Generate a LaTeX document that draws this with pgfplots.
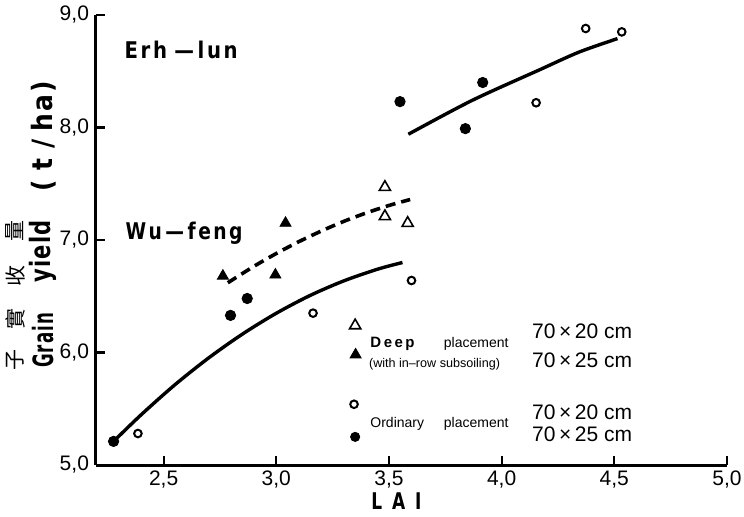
\documentclass[border=0pt]{standalone}
\usepackage{graphicx}
\usepackage{pgfplots}
\pgfplotsset{compat=1.18}
\usepackage{fontspec}
\setmainfont{Liberation Sans}
\newfontfamily\condb[LetterSpace=6.0]{DejaVu Sans Condensed}
\newfontfamily\condw[LetterSpace=12.0]{DejaVu Sans Condensed}
\newfontfamily\cjk{Noto Sans CJK TC}
\begin{document}
\begin{tikzpicture}
\begin{axis}[
  scale only axis, width=315.5pt, height=225pt,
  xmin=2.2, xmax=5.0, ymin=5, ymax=9,
  axis x line*=bottom, axis y line*=left,
  axis line style={line width=1.5pt, -},
  xtick={2.5,3,3.5,4,4.5,5}, ytick={5,6,7,8,9},
  major tick style={line width=1.1pt, black}, major tick length=4.5pt, tick align=inside,
  ticklabel style={font=\fontsize{10.5}{12}\selectfont},
  xticklabel style={yshift=0.5pt},
  /pgf/number format/use comma,
  /pgf/number format/fixed,
  /pgf/number format/fixed zerofill,
  /pgf/number format/precision=1,
  /pgf/number format/assume math mode=true,
  clip=false,
]
% ordinary placement 70x25 (filled circles)
\addplot[only marks, mark=*, mark size=2.6pt, black] coordinates {
 (2.278,5.21) (2.797,6.33) (2.871,6.48) (3.549,8.23) (3.839,7.99) (3.916,8.40)};
% ordinary placement 70x20 (open circles)
\addplot[only marks, mark=o, mark size=1.9pt, mark options={line width=1pt}, black] coordinates {
 (2.386,5.28) (3.163,6.35) (3.60,6.64) (4.153,8.22) (4.373,8.88) (4.533,8.85)};
% deep placement 70x25 (filled triangles)
\addplot[only marks, mark=triangle*, mark size=3.2pt, black] coordinates {
 (2.763,6.68) (2.996,6.69) (3.041,7.15)};
% deep placement 70x20 (open triangles)
\addplot[only marks, mark=triangle, mark size=3.2pt, mark options={line width=0.8pt}, black] coordinates {
 (3.482,7.47) (3.482,7.21) (3.583,7.15)};
% fitted curves
\addplot[smooth, line width=1.7pt, black] coordinates {
 (2.278,5.21) (2.40,5.446) (2.55,5.713) (2.70,5.952) (2.85,6.164) (3.00,6.349)
 (3.15,6.507) (3.30,6.637) (3.45,6.741) (3.56,6.80)};
\addplot[smooth, line width=1.8pt, black, dash pattern=on 5pt off 3pt] coordinates {
 (2.785,6.62) (2.90,6.765) (3.00,6.880) (3.10,6.985) (3.20,7.080) (3.30,7.166)
 (3.40,7.241) (3.50,7.307) (3.594,7.36)};
\addplot[smooth, line width=1.7pt, black] coordinates {
 (3.586,7.94) (3.868,8.24) (4.165,8.51) (4.343,8.67) (4.514,8.79)};
% legend marks
\addplot[only marks, mark=triangle, mark size=3.2pt, mark options={line width=0.8pt}, black] coordinates {(3.35,6.24)};
\addplot[only marks, mark=triangle*, mark size=3.2pt, black] coordinates {(3.352,5.98)};
\addplot[only marks, mark=o, mark size=1.9pt, mark options={line width=1pt}, black] coordinates {(3.345,5.54)};
\addplot[only marks, mark=*, mark size=2.3pt, black] coordinates {(3.35,5.25)};
% legend texts
\node[anchor=west, inner sep=0pt, font=\fontsize{7.5}{9}\selectfont\bfseries] at (axis cs:3.416,6.08) {D\,e\,e\,p};
\node[anchor=west, inner sep=0pt, font=\fontsize{7}{9}\selectfont] at (axis cs:3.742,6.08) {placement};
\node[anchor=west, inner sep=0pt, font=\fontsize{6.3}{8}\selectfont] at (axis cs:3.41,5.90) {(with in--row subsoiling)};
\node[anchor=west, inner sep=0pt, font=\fontsize{7}{9}\selectfont] at (axis cs:3.416,5.37) {Ordinary};
\node[anchor=west, inner sep=0pt, font=\fontsize{7}{9}\selectfont] at (axis cs:3.742,5.37) {placement};
\node[anchor=west, inner sep=0pt, font=\fontsize{10.5}{12}\selectfont] at (axis cs:4.134,6.19) {70\,×\,20 cm};
\node[anchor=west, inner sep=0pt, font=\fontsize{10.5}{12}\selectfont] at (axis cs:4.134,5.93) {70\,×\,25 cm};
\node[anchor=west, inner sep=0pt, font=\fontsize{10.5}{12}\selectfont] at (axis cs:4.134,5.47) {70\,×\,20 cm};
\node[anchor=west, inner sep=0pt, font=\fontsize{10.5}{12}\selectfont] at (axis cs:4.134,5.27) {70\,×\,25 cm};
% variety labels
\node[inner sep=0pt] at (axis cs:2.578,8.69) {\resizebox{56.5pt}{\height}{\condw\bfseries\fontsize{11.5}{14}\selectfont Erh\,\,—\,lun}};
\node[inner sep=0pt] at (axis cs:2.591,7.06) {\resizebox{58.5pt}{\height}{\condw\bfseries\fontsize{11.5}{14}\selectfont Wu\,—\,feng}};
% axis titles
\node[inner sep=0pt] at (axis cs:3.533,4.675) {\resizebox{25pt}{\height}{\condb\bfseries\fontsize{11.5}{13}\selectfont L\hspace{6pt}A\hspace{6pt}I}};
\node[inner sep=0pt, rotate=90, font=\cjk\fontsize{10.5}{13}\selectfont] at (axis cs:1.841,5.933) {子};
\node[inner sep=0pt, rotate=90, font=\cjk\fontsize{10.5}{13}\selectfont] at (axis cs:1.841,6.302) {實};
\node[inner sep=0pt, rotate=90, font=\cjk\fontsize{10.5}{13}\selectfont] at (axis cs:1.841,6.68) {收};
\node[inner sep=0pt, rotate=90, font=\cjk\fontsize{10.5}{13}\selectfont] at (axis cs:1.841,7.08) {量};
\node[inner sep=0pt, rotate=90] at (axis cs:1.966,6.107) {\resizebox{27.5pt}{\height}{\condb\bfseries\fontsize{14}{16}\selectfont Grain}};
\node[inner sep=0pt, rotate=90] at (axis cs:1.966,6.898) {\resizebox{31.5pt}{\height}{\condb\bfseries\fontsize{14}{16}\selectfont yield}};
\node[inner sep=0pt, rotate=90] at (axis cs:1.966,7.92) {\resizebox{55pt}{\height}{\condb\bfseries\fontsize{14}{16}\selectfont (\hspace{5pt}t\hspace{5pt}/\hspace{4pt}ha\hspace{1pt})}};
\end{axis}
\pgfresetboundingbox
\path[use as bounding box] ([xshift=-48pt,yshift=-25.5pt]current axis.south west) rectangle ([xshift=8.5pt,yshift=7.5pt]current axis.north east);
\end{tikzpicture}
\end{document}
